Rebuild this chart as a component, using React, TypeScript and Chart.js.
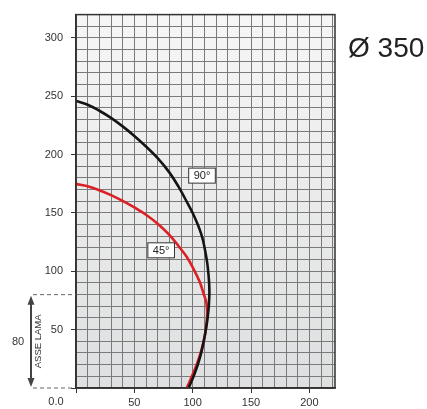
import React, { useEffect, useRef } from "react";
import { Chart, registerables } from "chart.js";

Chart.register(...registerables);

// ---- data ----
const curve90X = [0, 10, 20, 30, 40, 50, 60, 70, 80, 88, 95, 100, 104, 107, 109, 111, 112.5, 113.5, 114.2, 114.3, 113.8, 112.8, 111.3, 109.5, 107.3, 104.4, 100.8, 96.5];
const curve90Y = [246, 242.8, 237.6, 231.5, 224.2, 216, 207, 197, 184.8, 172.3, 159.5, 150, 141, 133, 126, 116, 107, 98, 88, 80, 70, 60, 50, 40, 30, 20, 10, 0];

const curve45X = [0, 10, 20, 30, 40, 50, 60, 70, 80, 88, 95, 101, 106, 109.5, 111.7, 112.4, 112.1, 111.3, 109.4, 106.8, 103.4, 99.3, 95];
const curve45Y = [175, 172.8, 169.5, 165.3, 160.3, 154.7, 148.5, 140.8, 131.3, 121.5, 112.2, 101.6, 91, 80.5, 73, 65, 58, 50, 40, 30, 20, 10, 0];

const seriesNames = ["90°", "45°"];
const seriesLabelAt = [
  [108, 182],
  [73, 118],
];

const xTickLabels = [50, 100, 150, 200];
const yTickLabels = [50, 100, 150, 200, 250, 300];
const X_MAX = 222;
const Y_MAX = 320;
const GRID_STEP = 10;
const MAJOR_STEP = 50;

const titleText = "Ø 350";
const originText = "0.0";
const bladeValue = 80;
const bladeText = "ASSE LAMA";

const FONT = "'Liberation Sans', Arial, sans-serif";

function range(max: number, step: number) {
  const out: number[] = [];
  for (let v = 0; v <= max + 1e-9; v += step) out.push(v);
  return out;
}

const decorPlugin = {
  id: "decor",
  beforeDraw(chart: any) {
    const { ctx, chartArea } = chart;
    const { left, top, right, bottom } = chartArea;
    ctx.save();
    const g = ctx.createLinearGradient(0, top, 0, bottom);
    g.addColorStop(0, "#f6f6f6");
    g.addColorStop(1, "#dedfe0");
    ctx.fillStyle = g;
    ctx.fillRect(left, top, right - left, bottom - top);
    ctx.restore();
  },
  afterDraw(chart: any) {
    const { ctx, chartArea, scales } = chart;
    const { left, top, right, bottom } = chartArea;
    const xs = scales.x;
    const ys = scales.y;
    ctx.save();

    // frame
    ctx.strokeStyle = "#333";
    ctx.lineWidth = 1.5;
    ctx.strokeRect(left, top, right - left, bottom - top);

    // series labels
    ctx.font = `11px ${FONT}`;
    ctx.textAlign = "center";
    ctx.textBaseline = "middle";
    seriesNames.forEach((name, i) => {
      const px = xs.getPixelForValue(seriesLabelAt[i][0]);
      const py = ys.getPixelForValue(seriesLabelAt[i][1]);
      const w = ctx.measureText(name).width + 10;
      const h = 15;
      ctx.fillStyle = "#fff";
      ctx.fillRect(px - w / 2, py - h / 2, w, h);
      ctx.strokeStyle = "#333";
      ctx.lineWidth = 1;
      ctx.strokeRect(px - w / 2, py - h / 2, w, h);
      ctx.fillStyle = "#222";
      ctx.fillText(name, px, py + 0.5);
    });

    // title
    ctx.font = `28px ${FONT}`;
    ctx.textAlign = "left";
    ctx.textBaseline = "alphabetic";
    ctx.fillStyle = "#222";
    ctx.fillText(titleText, right + 13, 57);

    // origin label
    ctx.font = `11px ${FONT}`;
    ctx.textAlign = "center";
    ctx.textBaseline = "middle";
    ctx.fillStyle = "#333";
    ctx.fillText(originText, left - 20, bottom + 14);

    // blade axis annotation
    const yTop = ys.getPixelForValue(bladeValue);
    const yBot = ys.getPixelForValue(0);
    ctx.strokeStyle = "#666";
    ctx.lineWidth = 1;
    ctx.setLineDash([4, 3]);
    ctx.beginPath();
    ctx.moveTo(left - 43, yTop);
    ctx.lineTo(left, yTop);
    ctx.moveTo(left - 43, yBot);
    ctx.lineTo(left - 4, yBot);
    ctx.stroke();
    ctx.setLineDash([]);

    const ax = left - 45;
    ctx.strokeStyle = "#444";
    ctx.fillStyle = "#444";
    ctx.lineWidth = 2;
    ctx.beginPath();
    ctx.moveTo(ax, yTop + 6);
    ctx.lineTo(ax, yBot - 6);
    ctx.stroke();
    ctx.beginPath();
    ctx.moveTo(ax, yTop + 1);
    ctx.lineTo(ax - 3.5, yTop + 10);
    ctx.lineTo(ax + 3.5, yTop + 10);
    ctx.closePath();
    ctx.fill();
    ctx.beginPath();
    ctx.moveTo(ax, yBot - 1);
    ctx.lineTo(ax - 3.5, yBot - 10);
    ctx.lineTo(ax + 3.5, yBot - 10);
    ctx.closePath();
    ctx.fill();

    const midY = (yTop + yBot) / 2;
    ctx.fillStyle = "#333";
    ctx.font = `11px ${FONT}`;
    ctx.textAlign = "center";
    ctx.textBaseline = "middle";
    ctx.fillText(String(bladeValue), left - 58, midY + 1);

    ctx.save();
    ctx.translate(left - 38, midY);
    ctx.rotate(-Math.PI / 2);
    ctx.font = `9.5px ${FONT}`;
    ctx.fillText(bladeText, 0, 0);
    ctx.restore();

    ctx.restore();
  },
};

export default function App() {
  const canvasRef = useRef<HTMLCanvasElement | null>(null);

  useEffect(() => {
    if (!canvasRef.current) return;
    const xGrid = range(X_MAX, GRID_STEP);
    const yGrid = range(Y_MAX, GRID_STEP);
    const tickColor = (c: any) =>
      c.tick && c.tick.value % MAJOR_STEP === 0 ? "#333" : "rgba(0,0,0,0)";

    const chart = new Chart(canvasRef.current, {
      type: "line",
      data: {
        datasets: [
          {
            label: seriesNames[0],
            data: curve90X.map((x, i) => ({ x, y: curve90Y[i] })),
            borderColor: "#141414",
            borderWidth: 2.6,
            pointRadius: 0,
            tension: 0.4,
            fill: false,
          },
          {
            label: seriesNames[1],
            data: curve45X.map((x, i) => ({ x, y: curve45Y[i] })),
            borderColor: "#dd1f26",
            borderWidth: 2.6,
            pointRadius: 0,
            tension: 0.4,
            fill: false,
          },
        ],
      },
      options: {
        animation: false,
        responsive: true,
        maintainAspectRatio: false,
        layout: { padding: { left: 0, right: 92, top: 14, bottom: 0 } },
        plugins: {
          legend: { display: false },
          tooltip: { enabled: false },
          title: { display: false },
        },
        scales: {
          x: {
            type: "linear",
            min: 0,
            max: X_MAX,
            afterBuildTicks: (s: any) => {
              s.ticks = xGrid.map((v) => ({ value: v }));
            },
            afterFit: (s: any) => {
              s.height = 21;
            },
            grid: {
              color: "#7a7a7a",
              lineWidth: 1,
              tickLength: 5,
              tickColor,
              tickWidth: 1,
            },
            border: { display: true, color: "#333", width: 1.5 },
            ticks: {
              autoSkip: false,
              maxRotation: 0,
              padding: 3,
              color: "#333",
              font: { family: FONT, size: 11 },
              callback: (v: any) => (xTickLabels.includes(Number(v)) ? String(v) : ""),
            },
          },
          y: {
            type: "linear",
            min: 0,
            max: Y_MAX,
            afterBuildTicks: (s: any) => {
              s.ticks = yGrid.map((v) => ({ value: v }));
            },
            afterFit: (s: any) => {
              s.width = 76;
            },
            grid: {
              color: "#7a7a7a",
              lineWidth: 1,
              tickLength: 5,
              tickColor,
              tickWidth: 1,
            },
            border: { display: true, color: "#333", width: 1.5 },
            ticks: {
              autoSkip: false,
              padding: 8,
              color: "#333",
              font: { family: FONT, size: 11 },
              callback: (v: any) => (yTickLabels.includes(Number(v)) ? String(v) : ""),
            },
          },
        },
      },
      plugins: [decorPlugin],
    });
    return () => chart.destroy();
  }, []);

  return (
    <div style={{ position: "fixed", left: 0, top: 0, width: 427, height: 409, background: "#fff" }}>
      <canvas ref={canvasRef} />
    </div>
  );
}
